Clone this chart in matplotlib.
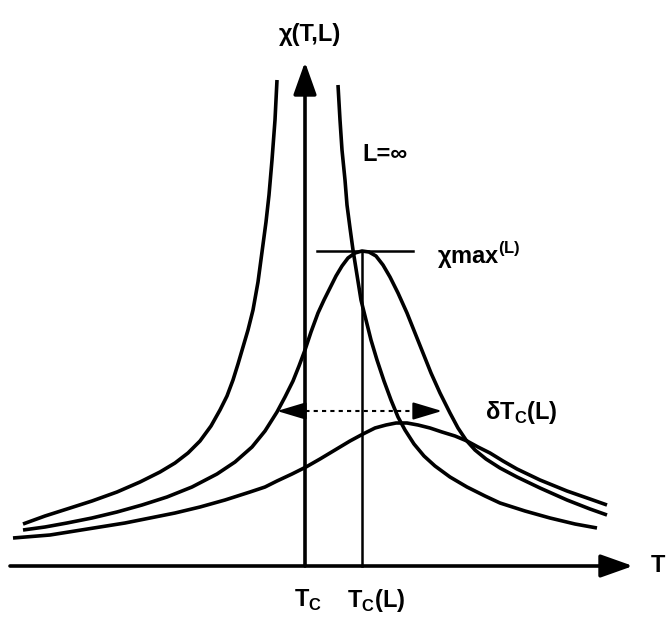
import numpy as np
import matplotlib
matplotlib.use('Agg')
import matplotlib.pyplot as plt

plt.rcParams['font.family'] = ['Liberation Sans', 'DejaVu Sans']
plt.rcParams['mathtext.fontset'] = 'custom'
plt.rcParams['mathtext.rm'] = 'Liberation Sans'
plt.rcParams['mathtext.bf'] = 'Liberation Sans:bold'

# Temperature measured from Tc, susceptibility in arbitrary units
# infinite system: diverges at Tc
t_inf_left = [-0.28, -0.30, -0.33, -0.36, -0.39, -0.43, -0.47, -0.52, -0.57, -0.62, -0.67, -0.72, -0.78,
              -0.85, -0.94, -1.05, -1.17, -1.30, -1.45, -1.65, -1.88, -2.13, -2.38, -2.60, -2.82]
chi_inf_left = [4.86, 4.46, 4.06, 3.71, 3.44, 3.14, 2.84, 2.56, 2.36, 2.19, 2.02, 1.86, 1.70,
                1.56, 1.40, 1.25, 1.13, 1.03, 0.94, 0.84, 0.74, 0.65, 0.57, 0.50, 0.42]
t_inf_right = [0.33, 0.35, 0.37, 0.40, 0.42, 0.45, 0.48, 0.52, 0.56, 0.61, 0.66, 0.72, 0.79, 0.86,
               0.93, 1.00, 1.09, 1.19, 1.30, 1.45, 1.62, 1.80, 1.95, 2.20, 2.45, 2.70, 2.92]
chi_inf_right = [4.81, 4.46, 4.16, 3.86, 3.61, 3.38, 3.16, 2.91, 2.66, 2.46, 2.26, 2.06, 1.85, 1.66,
                 1.49, 1.36, 1.22, 1.10, 1.00, 0.89, 0.79, 0.70, 0.63, 0.55, 0.48, 0.42, 0.38]

# finite L, peaked at Tc(L)
t_L = [-2.82, -2.60, -2.38, -2.13, -1.88, -1.63, -1.38, -1.13, -0.88, -0.70,
       -0.53, -0.40, -0.28, -0.20, -0.12, -0.06, 0.00, 0.06, 0.13, 0.19,
       0.25, 0.31, 0.37, 0.43, 0.50, 0.57, 0.64, 0.71, 0.78, 0.85,
       0.93, 1.02, 1.10, 1.18, 1.26, 1.35, 1.45, 1.53, 1.61, 1.70,
       1.81, 1.95, 2.12, 2.35, 2.62, 2.85, 3.02]
chi_L = [0.36, 0.39, 0.43, 0.48, 0.54, 0.61, 0.69, 0.79, 0.92, 1.04,
         1.19, 1.35, 1.54, 1.69, 1.85, 2.00, 2.16, 2.34, 2.53, 2.66,
         2.78, 2.90, 3.00, 3.08, 3.13, 3.15, 3.14, 3.10, 3.01, 2.89,
         2.73, 2.53, 2.33, 2.13, 1.93, 1.73, 1.53, 1.38, 1.26, 1.16,
         1.07, 0.98, 0.89, 0.78, 0.66, 0.57, 0.51]

# smaller L, broad and low
t_small = [-2.92, -2.55, -2.30, -2.05, -1.80, -1.55, -1.30, -1.05, -0.80, -0.55,
           -0.40, -0.28, -0.13, 0.01, 0.15, 0.30, 0.45, 0.58, 0.70, 0.81,
           0.91, 1.02, 1.13, 1.25, 1.37, 1.50, 1.62, 1.73, 1.85, 1.98,
           2.12, 2.35, 2.62, 2.85, 3.02]
chi_small = [0.28, 0.31, 0.35, 0.39, 0.43, 0.48, 0.53, 0.59, 0.66, 0.74,
             0.79, 0.85, 0.92, 0.99, 1.07, 1.16, 1.25, 1.32, 1.38, 1.41,
             1.43, 1.43, 1.41, 1.38, 1.34, 1.30, 1.25, 1.19, 1.13, 1.05,
             0.97, 0.86, 0.75, 0.67, 0.61]

tc = 0.0
tc_L = 0.57
chi_max = 3.15
half_left, half_right, half_level = -0.28, 1.37, 1.55

fig = plt.figure(figsize=(6.67, 6.23), dpi=100)
ax = fig.add_axes([0, 0, 1, 1])
ax.set_xlim(-3.05, 3.62)
ax.set_ylim(-0.57, 5.66)
ax.axis('off')

lw = 2.6
for t, chi in [(t_inf_left, chi_inf_left), (t_inf_right, chi_inf_right),
               (t_L, chi_L), (t_small, chi_small)]:
    ax.plot(t, chi, color='k', lw=lw, solid_joinstyle='round', solid_capstyle='butt')

# axes with arrow heads
arrow = dict(arrowstyle='-|>,head_length=0.9,head_width=0.32', color='k', lw=2.6,
             mutation_scale=22, shrinkA=0, shrinkB=0)
ax.annotate('', xy=(3.28, 0), xytext=(-2.95, 0), arrowprops=arrow)
ax.annotate('', xy=(tc, 5.04), xytext=(tc, 0), arrowprops=arrow)

# Tc(L) and the maximum
ax.plot([tc_L, tc_L], [0, chi_max], color='k', lw=1.8)
ax.plot([tc_L - 0.45, tc_L + 0.51], [chi_max, chi_max], color='k', lw=1.8)

# width of the peak
ax.plot([half_left + 0.2, half_right - 0.2], [half_level, half_level],
        color='k', lw=1.5, linestyle=(0, (2, 2)))
head = dict(arrowstyle='-|>,head_length=1.0,head_width=0.3', color='k', lw=1.5,
            mutation_scale=18, shrinkA=0, shrinkB=0)
ax.annotate('', xy=(half_left, half_level), xytext=(half_left + 0.24, half_level), arrowprops=head)
ax.annotate('', xy=(half_right, half_level), xytext=(half_right - 0.24, half_level), arrowprops=head)

fs = 17
txt = dict(fontsize=fs, fontweight='bold', va='center')
ax.text(0.05, 5.32, 'χ(T,L)', ha='center', **txt)
ax.text(0.57, 4.11, 'L=∞', ha='left', **txt)
ax.text(1.32, 3.11, 'χmax$^{\\mathbf{(L)}}$', ha='left', **txt)
ax.text(1.80, 1.54, 'δT$_\\mathbf{C}$(L)', ha='left', **txt)
ax.text(tc + 0.03, -0.34, 'T$_\\mathbf{C}$', ha='center', **txt)
ax.text(0.42, -0.34, 'T$_\\mathbf{C}$(L)', ha='left', **txt)
ax.text(3.46, 0.0, 'T', ha='left', **txt)

fig.savefig('out.png', dpi=100)
